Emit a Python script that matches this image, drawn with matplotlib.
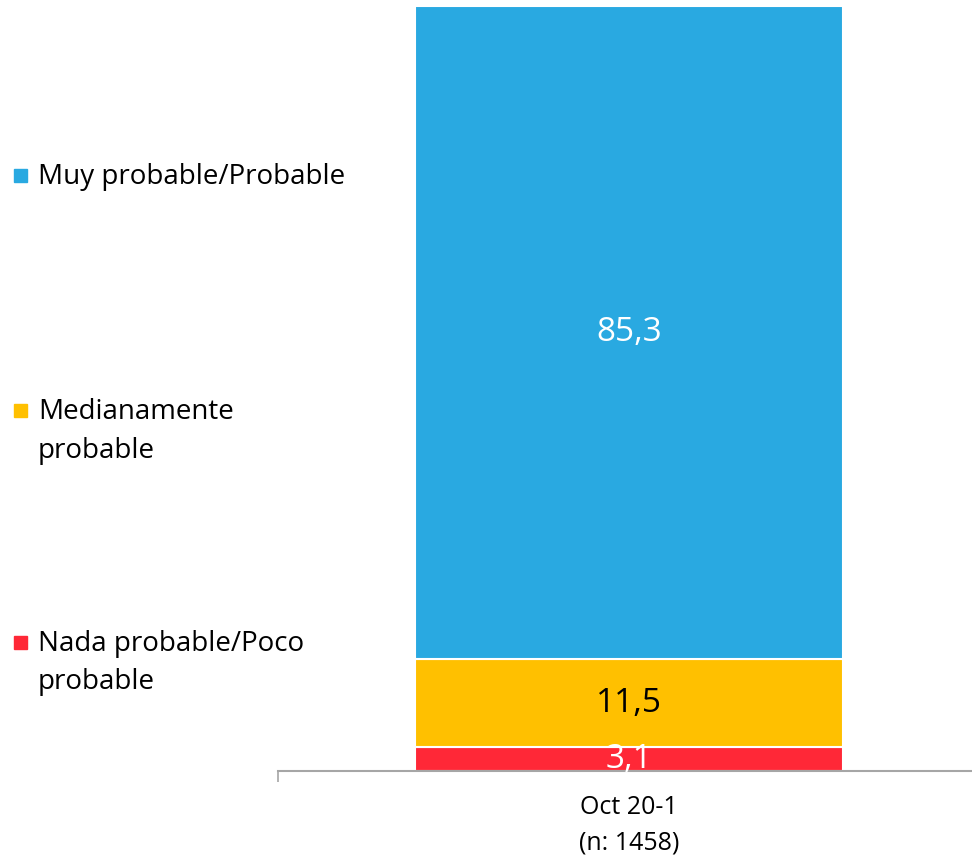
import matplotlib.pyplot as plt
from matplotlib.patches import Rectangle

categories = ["Oct 20-1\n(n: 1458)"]
series_names = ["Nada probable/Poco\nprobable", "Medianamente\nprobable", "Muy probable/Probable"]
values = [[3.1], [11.5], [85.3]]
colors = ["#FF2837", "#FFC000", "#29A9E1"]
label_colors = ["white", "black", "white"]

plt.rcParams['font.family'] = ['Open Sans', 'DejaVu Sans']

fig = plt.figure(figsize=(9.72, 8.56), dpi=100)
ax = fig.add_axes([278 / 972, 85 / 856, 702 / 972, 771 / 856])

x = range(len(categories))
bottom = [0] * len(categories)
for name, vals, col, lc in zip(series_names, values, colors, label_colors):
    bars = ax.bar(x, vals, width=0.61, bottom=bottom, color=col,
                  edgecolor="white", linewidth=1.5, zorder=2)
    for b, v in zip(bars, vals):
        ax.text(b.get_x() + b.get_width() / 2, b.get_y() + v / 2,
                f"{v:.1f}".replace(".", ","), ha="center", va="center",
                color=lc, fontsize=24, zorder=5)
    bottom = [b + v for b, v in zip(bottom, vals)]

ax.set_xlim(-0.5, 0.5)
ax.set_ylim(0, 100.7)
ax.set_yticks([])
ax.set_xticks([-0.5, 0.5], minor=True)
ax.set_xticks(list(x))
ax.set_xticklabels(categories, fontsize=18, linespacing=1.55)
ax.tick_params(axis="x", which="major", length=0, pad=17)
ax.tick_params(axis="x", which="minor", length=8, width=1.2, color="#A6A6A6")
for s in ["top", "right", "left"]:
    ax.spines[s].set_visible(False)
ax.spines["bottom"].set_color("#A6A6A6")
ax.spines["bottom"].set_linewidth(1.5)
ax.spines["bottom"].set_zorder(3)

# legend on the left, top entry first
legend_y = [175, 410, 642]
for name, col, ly in zip(series_names[::-1], colors[::-1], legend_y):
    yf = 1 - ly / 856
    fig.patches.append(Rectangle((14 / 972, yf - 7 / 856), 13 / 972, 13 / 856,
                                 transform=fig.transFigure, color=col))
    fig.text(38 / 972, yf + 12 / 856, name, fontsize=20, va="top", ha="left",
             linespacing=1.5, color="black")

fig.savefig("out.png", dpi=100)
